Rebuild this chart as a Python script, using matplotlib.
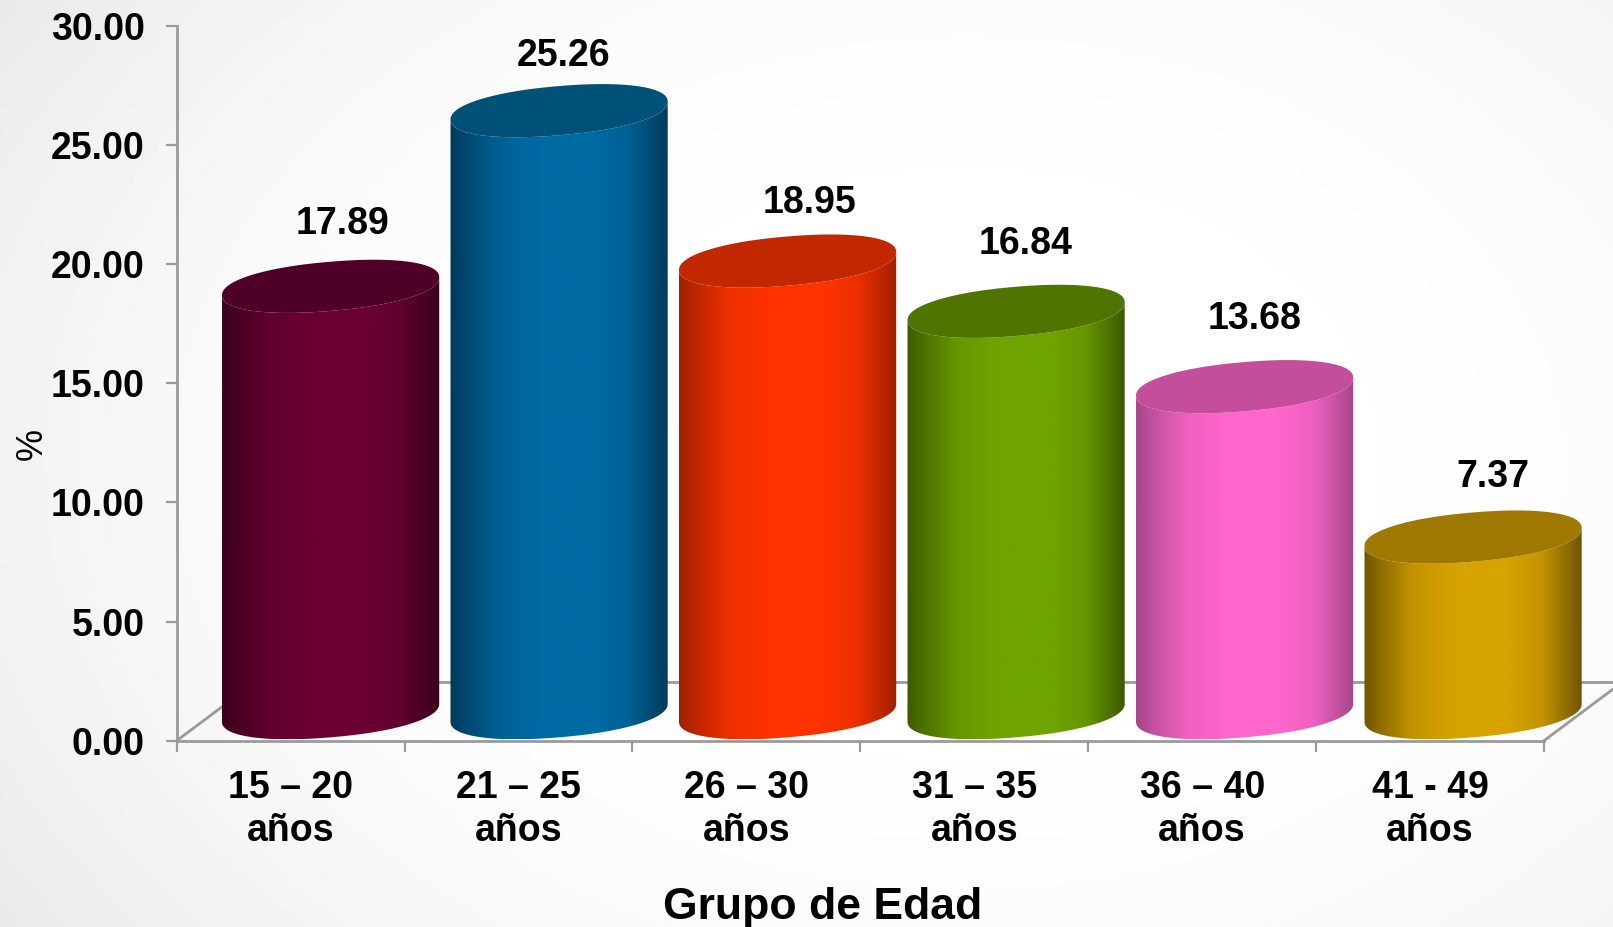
import numpy as np
import matplotlib
matplotlib.use("Agg")
import matplotlib.pyplot as plt
from matplotlib.path import Path
from matplotlib.patches import PathPatch
from matplotlib.colors import to_rgb

categories = ["15 \u2013 20\na\u00f1os", "21 \u2013 25\na\u00f1os", "26 \u2013 30\na\u00f1os",
              "31 \u2013 35\na\u00f1os", "36 \u2013 40\na\u00f1os", "41 - 49\na\u00f1os"]
values = [17.89, 25.26, 18.95, 16.84, 13.68, 7.37]
y_ticks = [0, 5, 10, 15, 20, 25, 30]
center_colors = ["#6B0032", "#006AA3", "#FF3300", "#6FA500", "#FF66CC", "#D6A300"]
edge_colors = ["#3A001B", "#003A5C", "#A02000", "#3C5A00", "#A5478A", "#705500"]
top_colors = ["#4F0026", "#005178", "#C22800", "#4F7500", "#C44E9C", "#9E7800"]
# hand placement of the value labels, pixels from the default spot
label_dx = [8, 0, 18, 6, 6, 16]
label_dy = [-11, -19, -15, -6, -6, -13]

W, H = 1613, 927
plt.rcParams["font.family"] = ["Liberation Sans", "DejaVu Sans"]
plt.rcParams["font.weight"] = "bold"
fig = plt.figure(figsize=(W / 100, H / 100), dpi=100)

# background
bg = fig.add_axes([0, 0, 1, 1])
bg.set_axis_off()
yy, xx = np.mgrid[0:1:200j, 0:1:340j]
d = np.clip(np.hypot((xx - 0.6) / 0.72, (yy - 0.5) / 0.9), 0, 1)
bg.imshow(1 - 0.085 * d ** 3, cmap="gray", vmin=0, vmax=1, aspect="auto", extent=(0, 1, 0, 1))

# plot axes
x0, x1, y0, y1 = 176.7, 1544, 740.7, 25.7
ax = fig.add_axes([x0 / W, 1 - y0 / H, (x1 - x0) / W, (y0 - y1) / H])
ax.patch.set_alpha(0)
ax.set_xlim(0, 6)
ax.set_ylim(0, 30)
px_x = (x1 - x0) / 6
px_y = (y0 - y1) / 30

GRAY = "#9A9A9A"
for s in ("top", "right"):
    ax.spines[s].set_visible(False)
for s in ("left", "bottom"):
    ax.spines[s].set_color(GRAY)
    ax.spines[s].set_linewidth(2)

FS = 27
ax.set_yticks(y_ticks)
ax.set_yticklabels([f"{v:.2f}" for v in y_ticks], fontsize=FS, fontweight="bold")
ax.tick_params(axis="y", length=8, width=1.6, color=GRAY, pad=15)
ax.set_xticks(range(7))
ax.set_xticklabels([])
ax.tick_params(axis="x", which="major", length=8, width=1.6, color=GRAY)
ax.set_xticks(np.arange(6) + 0.5, minor=True)
ax.set_xticklabels(categories, minor=True, fontsize=FS, fontweight="bold", linespacing=1.26)
ax.tick_params(axis="x", which="minor", length=0, pad=21)

# floor outline
depth_x, depth_y = 79 / px_x, 59 / px_y
ax.plot([0, depth_x], [0, depth_y], color=GRAY, lw=2, clip_on=False, zorder=1)
ax.plot([6, 6 + depth_x], [0, depth_y], color=GRAY, lw=2, clip_on=False, zorder=1)
ax.plot([depth_x, 6 + depth_x], [depth_y, depth_y], color=GRAY, lw=2, clip_on=False, zorder=1)

# cylinders
a = 108.6 / px_x
b = 24.6 / px_y
c = 9.0 / px_y
base = 28.0 / px_y
spacing = 228.5 / px_x
offset = (330.6 - x0) / px_x
stops = [0.0, 0.08, 0.22, 0.42, 0.66, 0.82, 0.93, 1.0]
mix = [1.0, 0.68, 0.2, 0.0, 0.0, 0.2, 0.68, 1.0]
ROUND = 0.92


def ell(cx, cy, t):
    C = np.sign(np.cos(t)) * np.abs(np.cos(t)) ** ROUND
    S = np.sign(np.sin(t)) * np.abs(np.sin(t)) ** ROUND
    return cx + a * C, cy + b * S + c * C


for i, v in enumerate(values):
    cx = offset + i * spacing
    ctop = base + v
    t_low = np.linspace(np.pi, 2 * np.pi, 120)
    t_all = np.linspace(0, 2 * np.pi, 240)
    bx, by = ell(cx, base, t_low)
    tx, ty = ell(cx, ctop, t_all)
    # body outline: lower arc of the base, then up and across the whole top ellipse
    ux, uy = ell(cx, ctop, np.linspace(2 * np.pi, np.pi, 120))
    verts = np.c_[np.r_[bx, ux], np.r_[by, uy]]
    codes = [Path.MOVETO] + [Path.LINETO] * (len(verts) - 2) + [Path.CLOSEPOLY]
    body = PathPatch(Path(verts, codes), transform=ax.transData, facecolor="none", edgecolor="none")
    ax.add_patch(body)
    frac = np.linspace(0, 1, 256)
    m = np.interp(frac, stops, mix)[None, :, None]
    img = (1 - m) * np.array(to_rgb(center_colors[i]))[None, None, :] + m * np.array(to_rgb(edge_colors[i]))[None, None, :]
    im = ax.imshow(img, extent=(cx - a, cx + a, by.min(), uy.max()), aspect="auto", zorder=3, interpolation="bilinear")
    im.set_clip_box(fig.bbox)
    im.set_clip_path(body)
    ax.fill(tx, ty, color=top_colors[i], zorder=4, clip_on=False, lw=0)
    ax.text(cx + (4 + label_dx[i]) / px_x, v + 1.14 + 2.35 + label_dy[i] / px_y, f"{v:.2f}", ha="center", va="bottom",
            fontsize=FS, fontweight="bold", zorder=5)

ax.set_xlim(0, 6)
ax.set_ylim(0, 30)

fig.text(32 / W, 1 - 444 / H, "%", rotation=90, ha="center", va="center", fontsize=26, fontweight="normal")
fig.text(823 / W, 1 - 908 / H, "Grupo de Edad", ha="center", va="center", fontsize=32, fontweight="bold")

fig.savefig("out.png", dpi=100)
